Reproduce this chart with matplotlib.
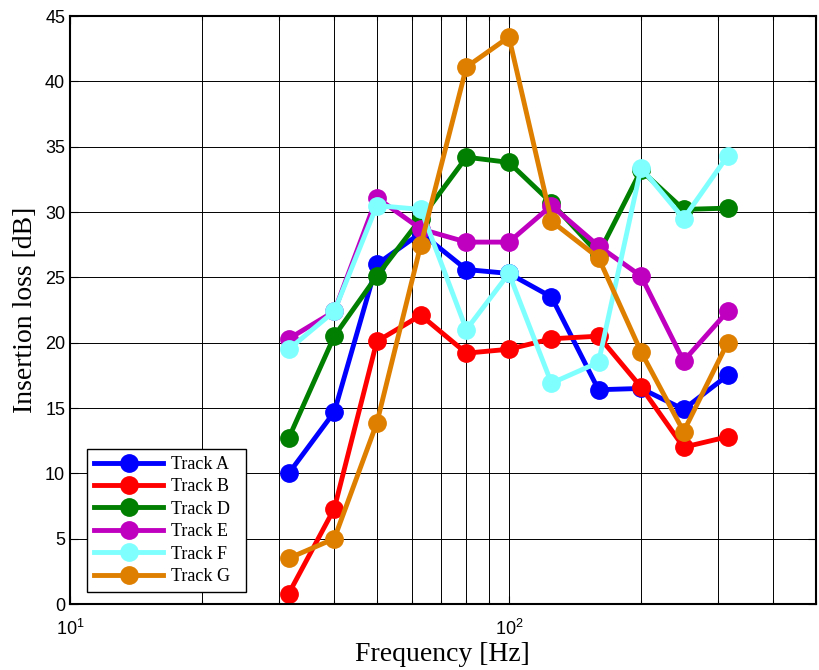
import numpy as np
import matplotlib
matplotlib.use('Agg')
import matplotlib.pyplot as plt

# one-third octave band centre frequencies [Hz]
freq = [31.5, 40, 50, 63, 80, 100, 125, 160, 200, 250, 315]

track_a = [10.0, 14.7, 26.0, 28.4, 25.6, 25.3, 23.5, 16.4, 16.5, 14.9, 17.5]
track_b = [0.8, 7.3, 20.1, 22.1, 19.2, 19.5, 20.3, 20.5, 16.6, 12.0, 12.8]
track_d = [12.7, 20.5, 25.1, 29.5, 34.2, 33.8, 30.7, 26.8, 33.2, 30.2, 30.3]
track_e = [20.3, 22.4, 31.1, 28.7, 27.7, 27.7, 30.5, 27.4, 25.1, 18.6, 22.4]
track_f = [19.5, 22.4, 30.5, 30.2, 21.0, 25.3, 16.9, 18.5, 33.4, 29.5, 34.3]
track_g = [3.5, 5.0, 13.85, 27.5, 41.1, 43.4, 29.3, 26.5, 19.3, 13.2, 20.0]

labels = ['Track A', 'Track B', 'Track D', 'Track E', 'Track F', 'Track G']
colors = ['#0000ff', '#ff0000', '#007f00', '#bf00bf', '#80ffff', '#de7f00']
series = [track_a, track_b, track_d, track_e, track_f, track_g]

fig = plt.figure(figsize=(8.19, 6.70), dpi=100)
ax = fig.add_axes([0.0855, 0.0985, 0.9105, 0.8775])

for vals, lab, col in zip(series, labels, colors):
    ax.semilogx(freq, vals, '-o', color=col, lw=3.5, ms=12.5, label=lab)

ax.set_xlim(10, 500)
ax.set_ylim(0, 45)
ax.set_yticks(np.arange(0, 50, 5))

ax.grid(True, which='major', color='k', lw=0.7, ls='-')
ax.grid(True, which='minor', axis='x', color='k', lw=0.7, ls='-')
ax.set_axisbelow(True)

ax.tick_params(which='both', direction='in', top=True, right=True,
               labelsize=13, width=0.8)
ax.tick_params(which='major', length=6)
ax.tick_params(which='minor', length=3)
for t in ax.get_xticklabels() + ax.get_yticklabels():
    t.set_fontfamily('Liberation Sans')
ax.tick_params(axis='x', pad=11)

for sp in ax.spines.values():
    sp.set_linewidth(1.5)

ax.set_xlabel('Frequency [Hz]', fontfamily='Liberation Serif', fontsize=20, labelpad=2)
ax.set_ylabel('Insertion loss [dB]', fontfamily='Liberation Serif', fontsize=20, labelpad=5)

leg = ax.legend(loc='lower left', bbox_to_anchor=(0.023, 0.02, 0.213, 0.243),
                mode='expand', borderaxespad=0, borderpad=0.4, fancybox=False,
                framealpha=1, edgecolor='k', handlelength=3.8, handletextpad=0.45,
                labelspacing=0.3, prop={'family': 'Liberation Serif', 'size': 13})
leg.get_frame().set_linewidth(1.0)

fig.savefig('out.png', dpi=100)
